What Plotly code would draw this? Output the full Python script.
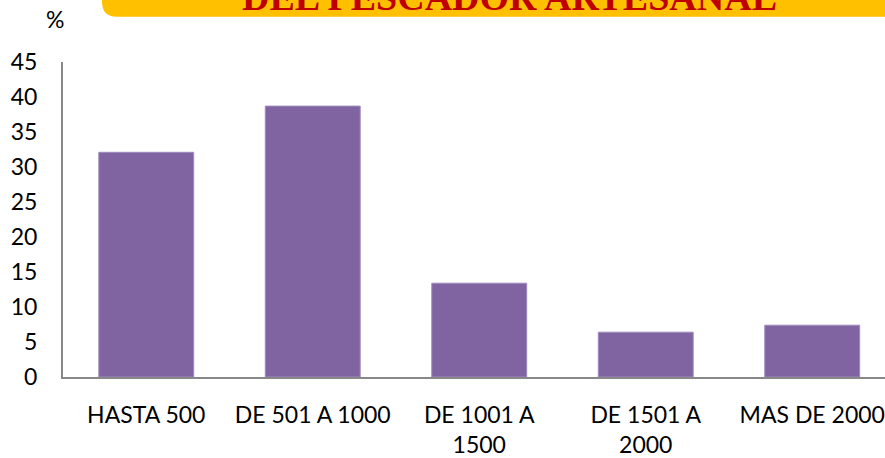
import plotly.graph_objects as go

categories = ["HASTA 500", "DE 501 A 1000", "DE 1001 A<br>1500", "DE 1501 A<br>2000", "MAS DE 2000"]
values = [32.1, 38.7, 13.4, 6.4, 7.4]
y_ticks = [0, 5, 10, 15, 20, 25, 30, 35, 40, 45]
title_text = "DEL PESCADOR ARTESANAL"
unit_text = "%"

W, H = 885, 458
L, R, T, B = 63, 0, 62, 76
PW, PH = W - L - R, H - T - B


def px(x):
    return (x - L) / PW


def py(y):
    return (H - B - y) / PH


fig = go.Figure()
fig.add_trace(go.Bar(
    x=list(range(len(categories))),
    y=values,
    marker=dict(color="#8064A2", line=dict(color="#9E8BBE", width=1)),
    hoverinfo="skip",
))

# title banner (rounded bottom-left corner)
x0, x1, yb, yt, r = 102, 905, 16, -12, 15
path = (f"M {px(x0)},{py(yt)} L {px(x0)},{py(yb - r)} "
        f"Q {px(x0)},{py(yb)} {px(x0 + r)},{py(yb)} "
        f"L {px(x1)},{py(yb)} L {px(x1)},{py(yt)} Z")
fig.add_shape(type="path", path=path, xref="paper", yref="paper",
              fillcolor="#FFC000", line=dict(width=0), layer="below")

fig.add_annotation(text=f"<b>{title_text}</b>", xref="paper", yref="paper",
                   x=px(510), y=py(19), xanchor="center", yanchor="bottom",
                   showarrow=False,
                   font=dict(family="Liberation Serif", size=38, color="#C00000"))
fig.add_annotation(text=unit_text, xref="paper", yref="paper",
                   x=px(55), y=py(18), xanchor="center", yanchor="middle",
                   showarrow=False,
                   font=dict(family="Lato", size=23, color="#000000"))

fig.update_layout(
    width=W, height=H,
    margin=dict(l=L, r=R, t=T, b=B, pad=0),
    paper_bgcolor="white", plot_bgcolor="white",
    showlegend=False,
    bargap=0.43,
    font=dict(family="Lato", size=23, color="#000000"),
)
fig.update_xaxes(
    tickmode="array", tickvals=list(range(len(categories))), ticktext=categories,
    range=[-0.5, 4.437], showgrid=False, zeroline=False,
    showline=True, linecolor="#888888", linewidth=2, ticks="",
    ticklabelstandoff=16, tickfont=dict(family="Lato", size=23, color="#000000"),
)
fig.update_yaxes(
    tickmode="array", tickvals=y_ticks, range=[0, 45],
    showgrid=False, zeroline=False,
    showline=True, linecolor="#888888", linewidth=2, ticks="",
    ticklabelstandoff=19, tickfont=dict(family="Lato", size=23, color="#000000"),
)

fig.write_html(
    "out.html",
    config={"displayModeBar": False},
    post_script="document.body.style.margin='0';document.body.style.padding='0';"
                "document.body.style.overflow='hidden';",
)
